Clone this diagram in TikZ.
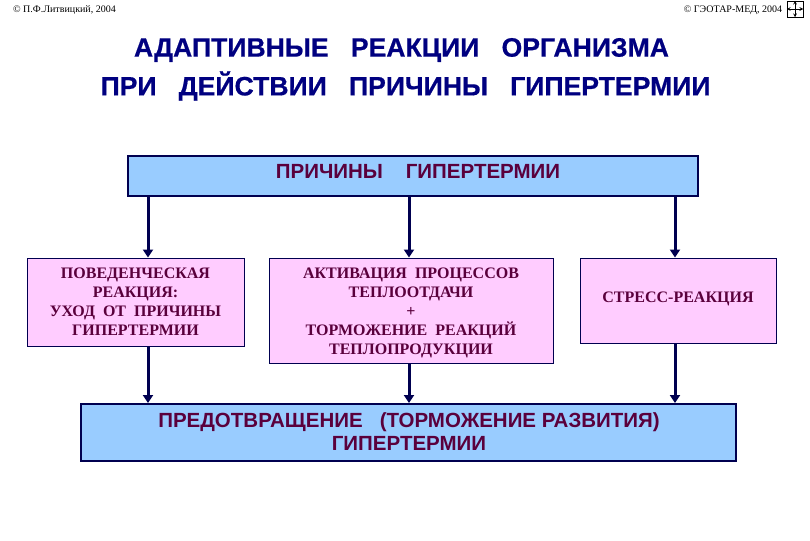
\documentclass[tikz,border=0pt]{standalone}
\usepackage{fontspec}
\setmainfont{Liberation Serif}
\setsansfont{Liberation Sans}
\usetikzlibrary{arrows.meta}

\definecolor{titleblue}{RGB}{0,0,128}
\definecolor{framenavy}{RGB}{0,0,80}
\definecolor{boxblue}{RGB}{153,204,255}
\definecolor{boxpink}{RGB}{255,204,255}
\definecolor{textplum}{RGB}{90,0,60}

\begin{document}
\begin{tikzpicture}[
		x=1pt, y=-1pt,
		every node/.style={inner sep=0pt, align=center},
		wide_box/.style={rectangle, draw=framenavy, line width=2pt, fill=boxblue},
		pink_box/.style={rectangle, draw=framenavy, line width=1pt, fill=boxpink},
		title_text/.style={font=\sffamily\bfseries\fontsize{26.6}{37}\selectfont\addfontfeature{FakeBold=0.6}, text=titleblue},
		wide_text/.style={font=\sffamily\bfseries\fontsize{20.5}{23}\selectfont, text=textplum},
		pink_text/.style={font=\bfseries\fontsize{16}{19}\selectfont, text=textplum},
		small_text/.style={font=\fontsize{10}{12}\selectfont, text=black},
		arrow/.style={-{Triangle[length=8pt, width=10pt]}, draw=framenavy, line width=3pt}
	]
  \useasboundingbox (0,0) rectangle (810,540);
  \node (copy_l) [small_text] at (64.5,10) {© П.Ф.Литвицкий, 2004};
  \node (copy_r) [small_text] at (733,10) {© ГЭОТАР-МЕД, 2004};
  \node (logo) [draw=black, line width=0.5pt, minimum size=16pt] at (795,9) {};
  \draw (logo.north) [<->, >=stealth, line width=0.7pt] -- (logo.south);
  \draw (logo.west) [<->, >=stealth, line width=0.7pt] -- (logo.east);
  \node (title_a) [title_text] at (401.5,50) {АДАПТИВНЫЕ\ \ \ РЕАКЦИИ\ \ \ ОРГАНИЗМА};
  \node (title_b) [title_text] at (405.5,86) {ПРИ\ \ \ ДЕЙСТВИИ\ \ \ ПРИЧИНЫ\ \ \ ГИПЕРТЕРМИИ};
  \node (causes) [wide_box, minimum width=570pt, minimum height=40pt] at (413,176) {};
  \node (causes_label) [wide_text] at (418,171) {ПРИЧИНЫ\ \ \ \ ГИПЕРТЕРМИИ};
  \node (behav) [pink_box, pink_text, minimum width=217pt, minimum height=88pt] at (135.5,302) {ПОВЕДЕНЧЕСКАЯ\\РЕАКЦИЯ:\\УХОД\ \ ОТ\ \ ПРИЧИНЫ\\ГИПЕРТЕРМИИ};
  \node (heat) [pink_box, minimum width=284pt, minimum height=105pt] at (411,310.5) {};
  \node (heat_label) [pink_text] at (411,312.5) {АКТИВАЦИЯ\ \ ПРОЦЕССОВ\\ТЕПЛООТДАЧИ\\+\\ТОРМОЖЕНИЕ\ \ РЕАКЦИЙ\\ТЕПЛОПРОДУКЦИИ};
  \node (stress) [pink_box, minimum width=196pt, minimum height=85pt] at (678,300.5) {};
  \node (stress_label) [pink_text] at (678,299) {СТРЕСС-РЕАКЦИЯ};
  \node (prevent) [wide_box, minimum width=655pt, minimum height=57pt] at (408.5,432.5) {};
  \node (prevent_label) [wide_text] at (409,431.5) {ПРЕДОТВРАЩЕНИЕ\ \ \ (ТОРМОЖЕНИЕ РАЗВИТИЯ)\\ГИПЕРТЕРМИИ};
  \coordinate (col_a) at (148,0);
  \coordinate (col_b) at (409,0);
  \coordinate (col_c) at (675,0);
  \draw [arrow] (causes.south -| col_a) -- (behav.north -| col_a);
  \draw [arrow] (causes.south -| col_b) -- (heat.north -| col_b);
  \draw [arrow] (causes.south -| col_c) -- (stress.north -| col_c);
  \draw [arrow] (behav.south -| col_a) -- (prevent.north -| col_a);
  \draw [arrow] (heat.south -| col_b) -- (prevent.north -| col_b);
  \draw [arrow] (stress.south -| col_c) -- (prevent.north -| col_c);
\end{tikzpicture}
\end{document}
